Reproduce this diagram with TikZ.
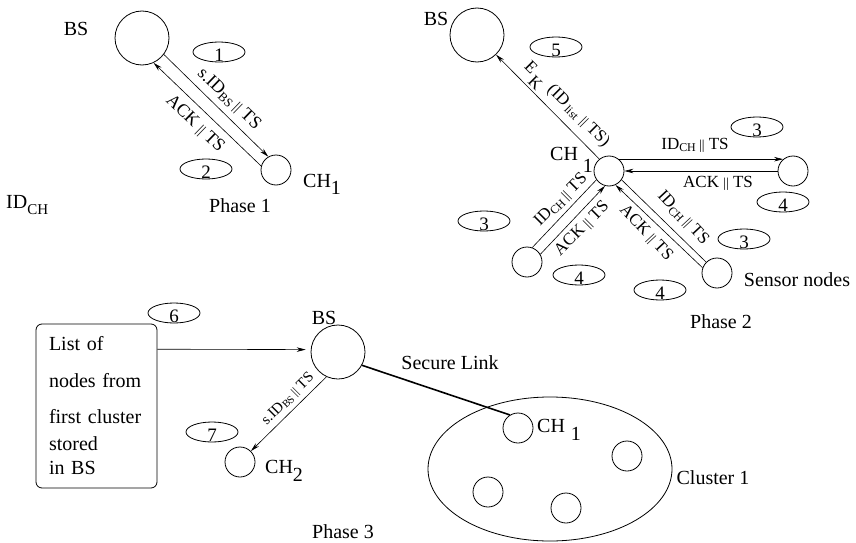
\documentclass[tikz,border=0pt]{standalone}
\usepackage{fontspec}
\setmainfont{Liberation Serif}
\usetikzlibrary{arrows.meta,shapes.geometric}
\newcommand{\dbar}{\scalebox{0.8}{||}}
\begin{document}
\begin{tikzpicture}[x=1pt,y=-1pt,font=\fontsize{20}{24}\selectfont,
  bignode/.style={circle,draw,line width=0.8pt,minimum size=54pt,inner sep=0pt},
  smallnode/.style={circle,draw,line width=0.8pt,minimum size=30pt,inner sep=0pt},
  numell/.style={ellipse,draw,line width=0.8pt,minimum width=52pt,minimum height=20pt,inner sep=0pt},
  numtxt/.style={inner sep=0pt,font=\fontsize{19}{20}\selectfont},
  lbl/.style={inner sep=0pt},
  elblA/.style={inner sep=0pt,font=\fontsize{18}{20}\selectfont},
  elblB/.style={inner sep=0pt,font=\fontsize{17}{19}\selectfont},
  elblC/.style={inner sep=0pt,font=\fontsize{15}{17}\selectfont},
  conn/.style={line width=0.6pt},
  arr/.style={conn,-{Stealth[length=9pt,width=4.5pt]}},
  seclink/.style={line width=1.6pt}]
\useasboundingbox (0,0) rectangle (856,543);

% ---------- Phase 1 ----------
\node[bignode] (bs1) at (142,38) {};
\node[smallnode] (ch1a) at (276,170) {};
\node[lbl] (bs1l) at (76,29) {BS};
\node[lbl,anchor=base west] (ch1al) at (303,187) {CH\raisebox{-7pt}{1}};
\node[lbl,anchor=base west] (idch) at (6,208) {ID\raisebox{-6pt}{\fontsize{15}{15}\selectfont CH}};
\node[lbl] (ph1) at (240,206) {Phase 1};
\node[numell] (e1) at (219,52) {};
\node[numtxt] (t1) at ([yshift=-3.5pt]e1.center) {1};
\node[numell] (e2) at (206,169) {};
\node[numtxt] (t2) at ([yshift=-3.5pt]e2.center) {2};
\draw[arr] (bs1.-37) -- (ch1a.120);
\draw[arr] (ch1a.165) -- (bs1.-65);
\node[elblA,rotate=-44] (l1a) at (229,99) {s.ID\textsubscript{BS}\,\dbar\ TS};
\node[elblA,rotate=-44] (l1b) at (195,124) {ACK \dbar\ TS};

% ---------- Phase 2 ----------
\node[bignode] (bs2) at (477,35) {};
\node[lbl] (bs2l) at (436,19) {BS};
\node[smallnode] (ch2a) at (609,171) {};
\node[lbl,anchor=base west] (ch2al) at (550,160) {CH\hspace{5pt}\raisebox{-12pt}{1}};
\node[smallnode] (nR) at (793,171) {};
\node[smallnode] (nL) at (527,262) {};
\node[smallnode] (nB) at (717,273) {};
\node[lbl] (sens) at (797,280) {Sensor nodes};
\node[lbl] (ph2) at (721,322) {Phase 2};
\node[numell] (e5) at (556,47) {};
\node[numtxt] (t5) at ([yshift=-3.5pt]e5.center) {5};
\node[numell] (e3a) at (757,127) {};
\node[numtxt] (t3a) at ([yshift=-3.5pt]e3a.center) {3};
\node[numell] (e4a) at (783,202) {};
\node[numtxt] (t4a) at ([yshift=-3.5pt]e4a.center) {4};
\node[numell] (e3b) at (484,221) {};
\node[numtxt] (t3b) at ([yshift=-3.5pt]e3b.center) {3};
\node[numell] (e4b) at (579,275) {};
\node[numtxt] (t4b) at ([yshift=-3.5pt]e4b.center) {4};
\node[numell] (e4c) at (660,290) {};
\node[numtxt] (t4c) at ([yshift=-3.5pt]e4c.center) {4};
\node[numell] (e3c) at (744,239) {};
\node[numtxt] (t3c) at ([yshift=-3.5pt]e3c.center) {3};
\draw[arr] (ch2a.129) -- (bs2.-46);
\draw[arr] (ch2a.50) -- (nR.130);
\draw[arr] (nR.west) -- (ch2a.east);
\draw[conn] (ch2a.-145) -- (nL.70);
\draw[arr] (nL.30) -- (ch2a.-105);
\draw[conn] (ch2a.-35) -- (nB.135);
\draw[arr] (nB.160) -- (ch2a.-65);
\node[elblB,rotate=-45] (l2a) at (565,106) {E\,\raisebox{-0.5em}{K}\, (ID\,\textsubscript{list} \dbar\ TS)};
\node[elblB] (l2b) at (695,145) {ID\textsubscript{CH}\,\dbar\ TS};
\node[elblB] (l2c) at (718,183) {ACK \dbar\ TS};
\node[elblB,rotate=45] (l2d) at (561,200) {ID\textsubscript{CH}\,\dbar\ TS};
\node[elblB,rotate=45] (l2e) at (582,229) {ACK \dbar\ TS};
\node[elblB,rotate=-47] (l2f) at (683,218) {ID\textsubscript{CH}\,\dbar\ TS};
\node[elblB,rotate=-47] (l2g) at (646,233) {ACK \dbar\ TS};

% ---------- Phase 3 ----------
\node[draw,rounded corners=6pt,line width=0.8pt,minimum width=121pt,minimum height=164pt,
      text width=95pt,align=left,inner sep=0pt] (box) at (96.5,406)
      {List of\\[13pt]nodes from\\[12pt]first cluster\\[3pt]stored\\in BS};
\node[numell] (e6) at (174,313) {};
\node[numtxt] (t6) at ([yshift=-3.5pt]e6.center) {6};
\node[numell] (e7) at (212,432) {};
\node[numtxt] (t7) at ([yshift=-3.5pt]e7.center) {7};
\node[bignode] (bs3) at (338,352) {};
\node[lbl] (bs3l) at (324,318) {BS};
\node[smallnode] (ch32) at (240,462) {};
\node[lbl,anchor=base west] (ch32l) at (265,473) {CH\raisebox{-8pt}{2}};
\node[ellipse,draw,line width=0.8pt,minimum width=244pt,minimum height=144pt,inner sep=0pt] (clus) at (550,469) {};
\node[smallnode] (cl1) at (518,428) {};
\node[smallnode] (cl2) at (627,456) {};
\node[smallnode] (cl3) at (488,492) {};
\node[smallnode] (cl4) at (566,508) {};
\node[lbl,anchor=base west] (cl1l) at (537,432) {CH\hspace{6pt}\raisebox{-8pt}{1}};
\node[lbl] (secl) at (450,363) {Secure Link};
\node[lbl] (clusl) at (713,478) {Cluster 1};
\node[lbl] (ph3) at (343,532) {Phase 3};
\draw[arr,shorten >=5pt] (box.43.3) -- (bs3.175);
\draw[arr] (bs3.-115) -- (ch32.45);
\draw[seclink] (bs3.-29) -- (cl1.122);
\node[elblC,rotate=45] (l3a) at (288,399) {s.ID\textsubscript{BS}\,\dbar\ TS};
\end{tikzpicture}
\end{document}
